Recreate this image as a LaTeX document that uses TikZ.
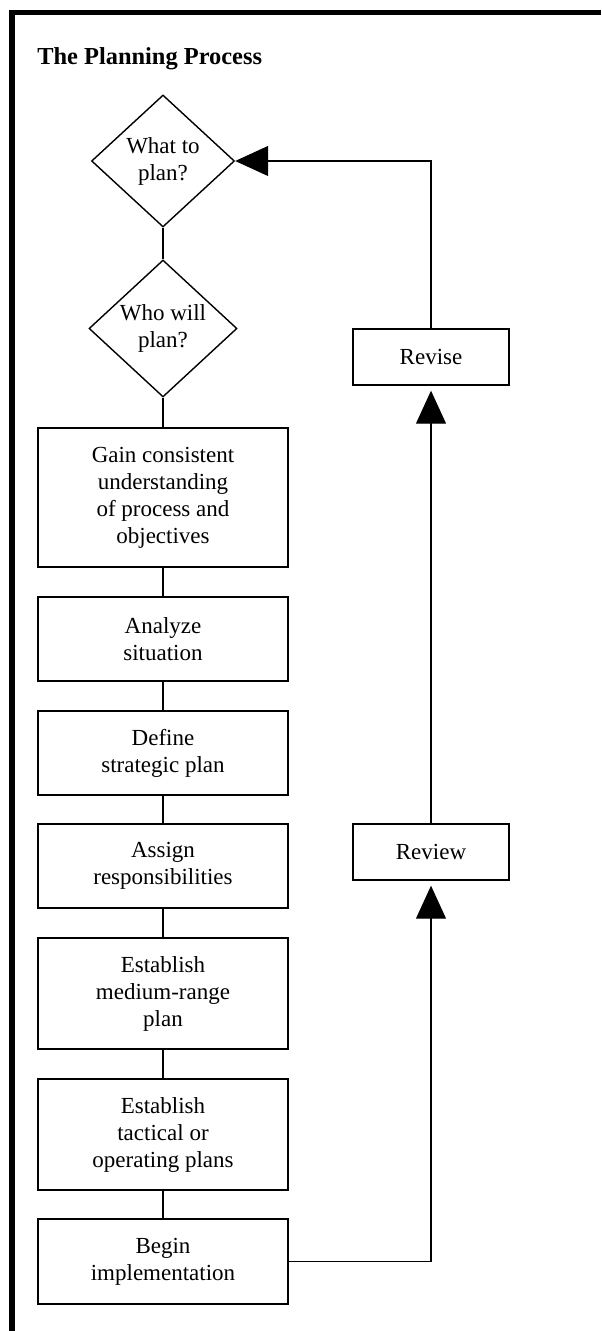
\documentclass[tikz,border=0pt]{standalone}
\usepackage{fontspec}
\setmainfont{Liberation Serif}
\usetikzlibrary{arrows.meta, shapes.geometric}

\begin{document}
\begin{tikzpicture}[x=0.5pt, y=-0.5pt,
  font=\fontsize{11.5}{13.5}\selectfont,
  stepbox/.style={draw, line width=0.7pt, align=center, inner sep=0pt, minimum width=125pt},
  decision/.style={draw, diamond, line width=0.7pt, align=center, inner sep=0pt},
  link/.style={line width=0.6pt},
  arrowed/.style={-{Triangle[length=16.5pt, width=15pt]}}]
  \useasboundingbox (0,0) rectangle (601,1331);
  % frame
  \draw[line width=2.6pt] (12,1331) -- (12,12.5) -- (601,12.5);
  \node[font=\fontsize{12.2}{14}\selectfont\bfseries, anchor=base west, inner sep=0pt] (title) at (37,65) {The Planning Process};
  % decisions
  \node[decision, minimum width=71.5pt, minimum height=66pt] (what) at (163,161) {What to\\plan?};
  \node[decision, minimum width=74pt, minimum height=68.5pt] (who) at (163,328.5) {Who will\\plan?};
  % main column
  \foreach \name/\y/\h/\txt in {
      gain/497.5/139/{Gain consistent\\understanding\\of process and\\objectives},
      analyze/639/84/{Analyze\\situation},
      define/753/84/{Define\\strategic plan},
      assign/866/84/{Assign\\responsibilities},
      medium/993.5/111/{Establish\\medium-range\\plan},
      tactical/1134.5/111/{Establish\\tactical or\\operating plans},
      begin/1261.5/85/{Begin\\implementation}}{
    \node[stepbox, minimum height=\h*0.5pt] (\name) at (163,\y) {\txt};
  }
  % feedback column
  \node[stepbox, minimum width=78pt, minimum height=28pt] (revise) at (431,357) {Revise};
  \node[stepbox, minimum width=78pt, minimum height=28pt] (review) at (431,852) {Review};
  % connectors
  \foreach \a/\b in {what/who, who/gain, gain/analyze, analyze/define, define/assign,
      assign/medium, medium/tactical, tactical/begin}
    \draw[link] (\a) -- (\b);
  \draw[link, arrowed, shorten >=2.5pt] (begin.east) -| (review.south);
  \draw[link, arrowed, shorten >=2.5pt] (review.north) -- (revise.south);
  \draw[link, arrowed] (revise.north) |- (what.east);
\end{tikzpicture}
\end{document}
